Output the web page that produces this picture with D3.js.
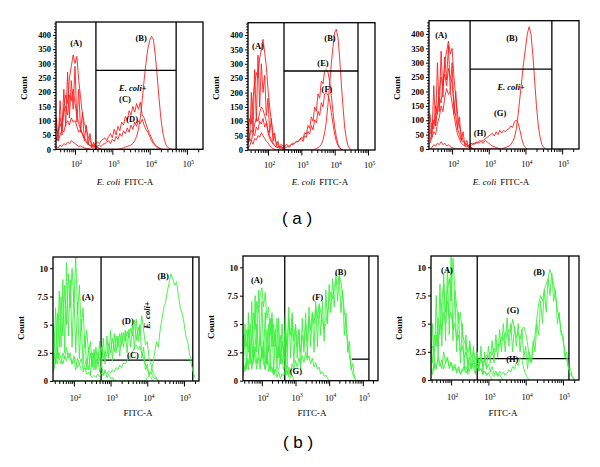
<!DOCTYPE html>
<html><head><meta charset="utf-8">
<script src="https://cdn.jsdelivr.net/npm/d3@7"></script>
<style>body{margin:0;background:#fff} svg{display:block}</style>
</head><body><svg id="c" width="600" height="467"></svg>
<script>
// ---------- DATA ----------
// histogram channels (log10 of FITC-A)
const channelExp = [1.40,1.45,1.50,1.55,1.60,1.65,1.70,1.75,1.80,1.85,1.90,1.95,2.00,2.05,2.10,2.15,2.20,2.25,2.30,2.35,2.40,2.45,2.50,2.55,2.60,2.65,2.70,2.75,2.80,2.85,2.90,2.95,3.00,3.05,3.10,3.15,3.20,3.25,3.30,3.35,3.40,3.45,3.50,3.55,3.60,3.65,3.70,3.75,3.80,3.85,3.90,3.95,4.00,4.05,4.10,4.15,4.20,4.25,4.30,4.35,4.40,4.45,4.50,4.55,4.60,4.65,4.70,4.75,4.80,4.85,4.90,4.95,5.00,5.05,5.10,5.15,5.20,5.25,5.30];
const decadeExp = [2,3,4,5];
const countTicksTop = [0,50,100,150,200,250,300,350,400];
const countTicksBottom = [0,2.5,5,7.5,10];

// (a) panel 1
const a1Neg = [30,40,70,55,110,80,150,190,160,250, 290,330,300,325,240,180,120,90,70,45, 30,20,10,12,5,3,0];
const a1X = [60,15,110,30,170,50,210,80,270,110, 240,140,290,95,210,60,130,30,85,15, 55,5,25,0,10,0];
const a1C = [20,35,30,60,90,70,130,150,120,190, 170,210,160,120,90,70,50,35,25,18, 12,10,14,20,25,20,30,35,40,30, 45,55,40,70,50,80,65,95,85,115, 100,135,120,150,130,160,140,165,120,110, 90,70,55,40,25,15,10,5,2,0];
const a1D = [10,25,40,30,50,70,60,90,100,85, 110,95,100,80,60,70,55,40,30,20, 15,10,8,10,12,15,10,18,20,25, 30,20,35,28,45,35,55,45,65,55, 75,60,85,70,95,80,100,90,105,85, 70,60,45,30,20,12,6,3,0];
const a1B = [0,5,10,5,15,10,20,15,25,20, 30,25,20,15,10,12,8,5,3,2, 0,0,0,0,0,0,0,0,0,0, 0,0,0,0,0,0,2,3,5,8, 10,12,15,20,30,45,70,110,170,240, 300,350,380,395,385,330,260,180,110,60, 30,12,5,2,0];
// (a) panel 2
const a2Neg = [60,110,90,180,230,270,250,320,350,385, 340,290,210,150,100,60,40,25,15,10, 5,3,0];
const a2X = [100,30,200,60,280,100,330,150,300,200, 260,120,180,60,110,30,60,15,30,5, 15,0,5,0,0];
const a2E = [30,50,70,60,90,110,100,130,150,140, 120,100,70,50,35,25,15,12,10,15, 20,15,10,20,15,10,20,25,22,28, 30,35,45,40,60,55,85,75,115,100, 150,135,195,180,240,230,275,280,270,240, 190,130,80,45,20,8,3,0];
const a2F = [20,40,30,60,50,80,70,100,90,110, 80,95,60,40,30,20,15,10,8,12, 10,8,6,10,12,15,20,18,25,30, 28,35,40,30,50,45,65,55,85,70, 105,95,135,120,165,150,195,200,190,170, 130,90,55,30,15,6,2,0];
const a2B = [5,15,30,20,40,35,50,45,60,50, 40,30,25,15,10,5,3,0,0,0, 0,0,0,0,0,0,0,0,0,0, 0,0,0,0,0,0,0,0,0,0, 3,5,8,12,20,35,60,100,160,230, 300,360,410,420,390,320,230,150,80,40, 15,5,0];
// (a) panel 3
const a3Neg = [50,90,70,150,120,200,250,220,300,340, 375,330,350,250,180,120,80,50,30,20, 12,8,5,3,0];
const a3X = [120,40,220,80,300,130,340,180,320,240, 360,200,300,120,200,70,110,30,60,10, 30,5,10,0,0];
const a3H = [30,60,100,80,140,180,160,230,260,220, 280,250,230,160,110,70,50,30,25,20, 15,12,18,20,15,25,20,30,25,20, 30,25,20,15,10,8,5,3,0];
const a3G = [20,40,60,50,90,110,150,130,180,210, 190,200,160,120,80,50,35,20,15,10, 8,10,12,15,20,18,25,22,28,30, 35,40,45,50,55,45,60,50,65,55, 65,60,68,70,80,75,95,100,90,65, 35,15,5,0];
const a3B = [0,5,15,10,20,15,25,15,20,10, 15,8,5,3,0,0,0,0,0,0, 0,0,0,0,0,0,0,0,0,0, 0,0,0,0,0,0,0,0,0,0, 3,5,8,10,15,25,40,70,120,180, 240,300,350,400,425,400,330,240,150,80, 40,15,5,0];
// (b) panel 1
const b1Neg = [2,5,1.5,6,3,7.5,4,8.5,5,9.5, 6.5,10,7,11,6,8.5,4.5,6.5,3,4.5, 2.5,3.5,1.5,2.5,1,2,0.8,1.5,0.5,1, 0.3,0.6,0.2,0.3,0,0];
const b1X = [4,1,6.5,2,8,3,9,2.5,10.5,4, 9,3,8,2.5,7,2,5.5,1.5,4,1, 3,0.5,2.5,1,3,1.5,3.5,1.2,3.8,1.5, 4,2,4.5,1.8,4.2,2.5,4,2.2,4.3,3, 4.5,2.5,4.6,3,5,2.8,5.5,3.5,5,2, 3,1,1.5,0.5,0.3,0];
const b1D = [1,2.5,1.5,3,2,1.5,2.5,2,3,2, 2.5,1.5,2,1,2,1.5,2,1,1.5,2, 1,2.5,1.2,2.8,1.5,2.5,1.8,3,2,2.6, 2.2,3.4,2.5,3.8,2.6,4,3,4.2,3.2,4.3, 3.5,4.4,3.8,4.7,4,5.4,3.6,4.8,4,5.8, 4.5,3.2,3.5,2,1.5,0.8,0.5,0.2,0];
const b1C = [0.5,1,2,1.5,2.5,2,1.5,2.2,1.8,2.5, 2,1.5,2.2,1.8,1.2,1.5,1,0.8,1.2,0.6, 0.8,0.5,0.3,0.5,0.3,0.6,0.4,0.7,0.5,0.8, 0.6,0.9,0.7,1,0.8,1.2,1,1.4,1.2,1.6, 1.5,1.8,2.2,2,2.6,3,3.2,2.8,3.1,2.5, 2,1.4,1,0.6,0.8,0.4,0.2,0.3,0];
const b1B = [0,0,0,0,0,0,0,0,0,0, 0,0,0,0,0,0,0,0,0,0, 0,0,0,0,0,0,0,0,0,0, 0,0,0,0,0,0,0,0,0,0, 0,0,0,0,0,0,0,0,0,0, 0,0,0.3,0.5,0.8,1.5,2.5,3.5,3,4.5, 5.5,6.5,7,8,8.8,9.5,9,8.5,8.8,7.5, 6.5,6,5.2,4,3.5,2.5,1.5,0.8,0.3];
// (b) panel 2
const b2Neg = [2,4,3,4.5,2.5,5,3.5,6,4.5,7, 6,7.5,8.2,6.5,7.8,5.5,6.5,4,5.5,3, 4.5,2,3,1.5,2,1,1.5,0.5,1,0.3, 0.5,0,0];
const b2X = [3.5,0.5,5,1,6,1.5,7,2,7.5,2.5, 8,3,7,2,6,1.5,5,1,6,0.5, 4,1,5.5,1.5,5,2,6,1.5,6.5,2, 5.5,1.5,5,2,4.5,1,5.5,2.5,6,2, 6.5,3,6,2.5,7,3,6.5,4,7,3.5, 8,5,8.5,6,9,6.5,9.5,7,9.2,6, 8,4,6,2.5,3.5,1,1.5,0.3,0];
const b2A2 = [1,2.5,4,3,4.5,2,3.5,1.5,3,5, 2.5,4,2,3.5,1.5,4.5,2.5,5.5,3,5, 3,5.5,2,4,1.5,3,0.8,1.5,0.3,0];
const b2F = [0.5,1.5,1,2,1.5,2.5,1,2,3,1.5, 2,1,2.5,1.5,1,2,0.8,1.5,1,0.5, 1,0.8,1,2,3.5,2,4.5,3,5.5,4, 6,3.5,5,3,4.5,2.5,4,3,5,3.5, 5.5,4.5,6,5,6.5,5.5,6.8,6,5.2,4.5, 5,6,7,7.8,7.2,8.3,8.8,8.5,9.3,8.7, 7.5,6.2,4.8,3.5,2.2,1.2,0.6,0.2,0];
const b2G = [0.5,1.5,0.8,2,1,2.5,1.5,3,2,1, 2.5,1.5,3,2,1,2.5,1.5,0.8,1.2,0.5, 1,0.3,0.8,0.2,0.6,0.4,1,0.6,1.2,0.8, 1.5,1,1.8,1.2,2,1.5,2.2,1.6,2.5,1.8, 2.2,1.5,2,1.2,1.6,1,1.2,0.6,0.8,0.4, 0.5,0.2,0];
// (b) panel 3
const b3Neg = [2,3.5,1.5,4,3,5.5,4,7,8.5,6, 8,9,7,10.8,8,6.5,5,6,4,3.5, 3,2.5,3.2,2,2.5,1.8,2.2,1.5,2,1.2, 1.8,1,1.4,0.8,1.2,0.5,0.8,0.3,0.5,0.2, 0];
const b3X = [3,0.5,5,1,7.5,2,8.5,3,9.5,3.5, 10,4,11,3.5,8,2.5,6,1.5,5,1, 4,0.5,3.5,1,3,0.5,2.5,0.8,3,0.5, 2.5,1,3,1.5,3.5,1.5,4,2,4.5,2.5, 5,2.5,5.5,3,5,2.5,4.8,3,5,2.5, 4.5,2,3,1,2.5,1.5,3.5,2.5,5,4, 7,5,8,6,9,7.5,9.5,7,8,5, 6,4,4,2,2.5,1,1,0.3,0];
const b3A2 = [1,2,3,2.5,4,3,5,4.5,6,5, 7,5.5,6,4.5,5,3.5,4,2.5,3,2, 2.5,1.5,2,1.2,1.5,1,1.3,0.8,1,0.6, 0.8,0.5,0.6,0.3,0];
const b3G = [0.5,1,0.8,1.5,1,2,1.2,1.8,1,1.5, 2,1.2,1.6,1,1.4,0.8,1.2,0.6,1,0.8, 1.2,0.7,1.5,1,1.8,1.2,1.5,1.2,2,1.5, 1.8,2.2,2,2.5,2.2,2.8,2.5,3.2,3,3.8, 3.5,4.2,3.8,4.5,4.2,5.4,4.5,3.8,4.2,3.6, 4.5,4.7,4.2,3.2,2,1.5,2.8,4,5.5,6.8, 7.5,7,8,8.5,9,9.8,9.2,8.5,7.5,6.2, 5.5,4.5,3.5,2.5,1.8,1,0.5,0.3,0];
const b3H = [0.5,1,0.5,1.5,1,2,1.5,1,2.5,1.5, 2,1,1.5,0.8,1.2,0.6,1,0.5,0.8,1.2, 0.6,1,0.8,1.5,1,0.6,1.2,0.8,1,0.5, 0.8,0.4,0.6,0.8,0.5,0.3,0.6,0.4,0.8,0.5, 0.7,0.4,0.6,0.9,0.7,1.2,1,1.5,1.3,2, 1.8,1,0.5,0.2,0];

// gates (log10 FITC-A and count)
const gateLowExp  = [2.56, 2.48, 2.49, 2.74, 2.68, 2.70];
const gateHighExp = [4.71, 4.70, 4.72, 5.24, 5.18, 5.16];
const gateCount   = [276, 275, 278, 1.86, 1.9, 1.9];
const gateLineFromExp = [2.56, 2.48, 2.49, 2.74, 4.67, 2.70];

// annotations [text, log10 FITC-A, count]
const labelsA1 = [["(A)",2.03,371],["(B)",3.77,388],["(C)",3.34,175],["(D)",3.53,105]];
const labelsA2 = [["(A)",1.70,362],["(B)",3.86,390],["(E)",3.65,303],["(F)",3.77,212]];
const labelsA3 = [["(A)",1.70,397],["(B)",3.63,386],["(G)",3.31,125],["(H)",2.76,56]];
const labelsB1 = [["(A)",2.38,7.45],["(B)",4.43,9.3],["(D)",3.47,5.3],["(C)",3.61,2.3]];
const labelsB2 = [["(A)",1.85,8.9],["(B)",4.34,9.6],["(F)",3.66,7.4],["(G)",3.01,0.85]];
const labelsB3 = [["(A)",1.89,9.76],["(B)",4.36,9.58],["(G)",3.66,6.2],["(H)",3.64,1.86]];
const ecoliPlus = [[3.55,214,0],null,[3.61,216,0],[3.99,5.85,-90],null,null];

// ---------- LAYOUT ----------
const red = "#ff1e1e", green = "#3cf03c";
const layout = [
  {x0:56,x1:203,y0:22,y1:149.3,lo:1.49,hi:5.43,ymax:445,cx:125,cy:88,ly:185},
  {x0:248,x1:375,y0:22.7,y1:150,lo:1.40,hi:5.21,ymax:443,cx:320,cy:88,ly:185},
  {x0:429,x1:579,y0:20.7,y1:149,lo:1.37,hi:5.46,ymax:446,cx:501,cy:88,ly:185},
  {x0:53,x1:199,y0:257,y1:381,lo:1.43,hi:5.41,ymax:11,cx:138,cy:328,ly:416},
  {x0:243,x1:378,y0:256,y1:380.7,lo:1.44,hi:5.45,ymax:11,cx:312,cy:327,ly:416},
  {x0:431,x1:579,y0:256,y1:380,lo:1.46,hi:5.43,ymax:11,cx:503,cy:328,ly:416}
];
const panels = [
  {curves:[a1Neg,a1X,a1C,a1D,a1B], labels:labelsA1, color:red, top:true},
  {curves:[a2Neg,a2X,a2E,a2F,a2B], labels:labelsA2, color:red, top:true},
  {curves:[a3Neg,a3X,a3H,a3G,a3B], labels:labelsA3, color:red, top:true},
  {curves:[b1Neg,b1X,b1D,b1C,b1B], labels:labelsB1, color:green, top:false},
  {curves:[b2Neg,b2X,b2A2,b2F,b2G], labels:labelsB2, color:green, top:false},
  {curves:[b3Neg,b3X,b3A2,b3G,b3H], labels:labelsB3, color:green, top:false}
];

const serif = "'Liberation Serif','Times New Roman',serif";
const svg = d3.select("#c");
svg.append("rect").attr("width",600).attr("height",467).attr("fill","#fff");

layout.forEach((L, p) => {
  const P = panels[p];
  const x = d3.scaleLog().domain([10**L.lo, 10**L.hi]).range([L.x0, L.x1]);
  const y = d3.scaleLinear().domain([0, L.ymax]).range([L.y1, L.y0]);
  const g = svg.append("g");
  const clipId = "clip" + p;
  svg.append("clipPath").attr("id", clipId).append("rect")
    .attr("x", L.x0).attr("y", L.y0).attr("width", L.x1 - L.x0).attr("height", L.y1 - L.y0);

  const gateG = g.append("g").attr("stroke","#000").attr("stroke-width",1.3).attr("fill","none");
  const drawGate = () => {
    gateG.append("line").attr("x1", x(10**gateLowExp[p])).attr("x2", x(10**gateLowExp[p]))
      .attr("y1", L.y0).attr("y2", L.y1);
    gateG.append("line").attr("x1", x(10**gateHighExp[p])).attr("x2", x(10**gateHighExp[p]))
      .attr("y1", L.y0).attr("y2", L.y1);
    gateG.append("line").attr("x1", x(10**gateLineFromExp[p])).attr("x2", x(10**gateHighExp[p]))
      .attr("y1", y(gateCount[p])).attr("y2", y(gateCount[p]));
  };
  if (!P.top) drawGate();

  const line = d3.line().x((d, i) => x(10**channelExp[i])).y(d => y(d));
  const cg = g.append("g").attr("clip-path", `url(#${clipId})`);
  P.curves.forEach(c => {
    cg.append("path").attr("d", line(c)).attr("fill","none")
      .attr("stroke", P.color).attr("stroke-width", 0.9).attr("stroke-linejoin","miter");
  });
  if (P.top) { gateG.raise(); drawGate(); }

  // box
  g.append("rect").attr("x", L.x0).attr("y", L.y0).attr("width", L.x1 - L.x0).attr("height", L.y1 - L.y0)
    .attr("fill","none").attr("stroke","#000").attr("stroke-width",1.3);

  // x axis: minor + major log ticks
  const minor = [];
  [1,2,3,4,5].forEach(n => { for (let k = 2; k <= 9; k++) { const v = k * 10**n; if (v >= 10**L.lo && v <= 10**L.hi) minor.push(v); } });
  const xMinor = g.append("g").attr("transform", `translate(0,${L.y1})`)
    .call(d3.axisBottom(x).tickValues(minor).tickSize(3).tickFormat(""));
  const xMajor = g.append("g").attr("transform", `translate(0,${L.y1})`)
    .call(d3.axisBottom(x).tickValues(decadeExp.map(e => 10**e)).tickSize(5.5).tickFormat(""));
  [xMinor, xMajor].forEach(a => { a.select(".domain").remove(); a.selectAll("line").attr("stroke","#000").attr("stroke-width",1); });
  decadeExp.forEach(e => {
    const t = g.append("text").attr("x", x(10**e) + 1.5).attr("y", L.y1 + (P.top ? 18 : 20))
      .attr("text-anchor","middle").attr("font-family", serif).attr("font-size", 8.5).attr("fill","#000");
    t.append("tspan").text("10");
    t.append("tspan").attr("font-size", 5.5).attr("dy", -3.5).text(e);
  });

  // y axis
  const yTicks = P.top ? countTicksTop : countTicksBottom;
  const yAx = g.append("g").attr("transform", `translate(${L.x0},0)`)
    .call(d3.axisLeft(y).tickValues(yTicks).tickSize(3).tickPadding(2)
      .tickFormat(d => (d === 2.5 || d === 7.5) ? String(d) : d3.format("d")(d)));
  yAx.select(".domain").remove();
  yAx.selectAll("line").attr("stroke","#000");
  yAx.selectAll("text").attr("font-family", serif).attr("font-size", 8.5).attr("font-weight","bold").attr("fill","#000");
  if (P.top) {
    const ym = g.append("g").attr("transform", `translate(${L.x0},0)`)
      .call(d3.axisLeft(y).tickValues(d3.range(0, 441, 10).filter(v => v % 50 !== 0)).tickSize(1.8).tickFormat(""));
    ym.select(".domain").remove();
    ym.selectAll("line").attr("stroke","#000");
  }

  // axis titles
  g.append("text").attr("transform", `translate(${L.x0 - 32},${L.cy}) rotate(-90)`)
    .attr("text-anchor","middle").attr("dy","0.35em").attr("font-family", serif)
    .attr("font-size", 9).attr("font-weight","bold").text("Count");
  const xt = g.append("text").attr("x", L.cx).attr("y", L.ly).attr("text-anchor","middle")
    .attr("font-family", serif).attr("font-size", 9);
  if (P.top) {
    xt.append("tspan").attr("font-style","italic").text("E. coli");
    xt.append("tspan").attr("dx", 4).text("FITC-A");
  } else {
    xt.text("FITC-A");
  }

  // annotations
  P.labels.forEach(([t, lx, ly]) => {
    g.append("text").attr("x", x(10**lx)).attr("y", y(ly)).attr("dy","0.35em")
      .attr("text-anchor","middle").attr("font-family", serif).attr("font-size", 8.5)
      .attr("font-weight","bold").text(t);
  });
  const ep = ecoliPlus[p];
  if (ep) {
    const et = g.append("text").attr("transform", `translate(${x(10**ep[0])},${y(ep[1])}) rotate(${ep[2]})`)
      .attr("dy","0.35em").attr("text-anchor","middle").attr("font-family", serif)
      .attr("font-size", 8.5).attr("font-weight","bold");
    et.append("tspan").attr("font-style","italic").text("E. coli");
    et.append("tspan").text("+");
  }
});

// figure labels
svg.append("text").attr("x", 297).attr("y", 218).attr("dy","0.35em").attr("text-anchor","middle")
  .attr("font-family","'Liberation Sans',Arial,sans-serif").attr("font-size", 17).text("( a )");
svg.append("text").attr("x", 298).attr("y", 442).attr("dy","0.35em").attr("text-anchor","middle")
  .attr("font-family","'Liberation Sans',Arial,sans-serif").attr("font-size", 17).text("( b )");
</script></body></html>
